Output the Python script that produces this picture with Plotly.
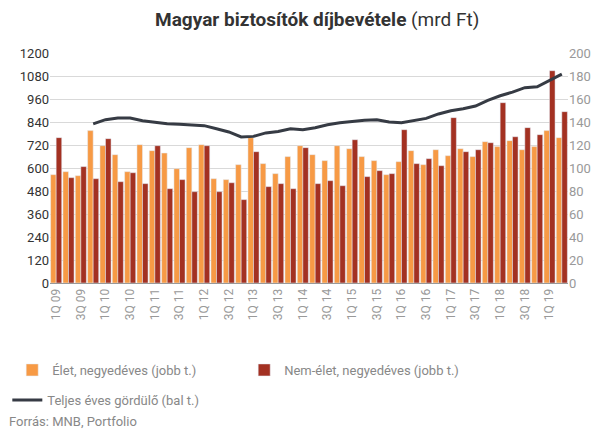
import plotly.graph_objects as go

quarters = [f"{q}Q {y:02d}" for y in range(9, 20) for q in range(1, 5)][:42]

elet = [94.2, 96.8, 93.3, 132.5, 119.4, 111.6, 96.8, 120.3, 115.1, 113.0,
        99.4, 117.7, 120.3, 90.7, 89.9, 102.9, 126.4, 103.8, 95.1, 109.9,
        119.4, 111.6, 106.4, 119.4, 116.8, 109.9, 106.4, 94.2, 105.5, 115.1,
        102.9, 115.9, 110.7, 116.8, 109.9, 122.9, 118.6, 123.8, 115.9, 118.6,
        132.5, 126.4]
nem_elet = [126.4, 91.6, 101.2, 90.7, 125.5, 88.1, 95.9, 86.4, 119.4, 82.0,
            89.9, 79.4, 119.4, 79.4, 87.2, 72.5, 114.2, 83.8, 86.4, 82.0,
            117.7, 86.4, 89.0, 84.6, 124.6, 92.5, 97.7, 95.1, 133.3, 103.8,
            108.1, 102.0, 143.8, 114.2, 115.9, 122.0, 156.8, 127.2, 135.1, 129.0,
            184.6, 149.0]
gordulo = [None, None, None, 830, 852, 861, 861, 847, 838, 831,
           828, 824, 821, 805, 788, 762, 765, 783, 790, 805,
           800, 810, 826, 836, 843, 849, 852, 840, 836, 848,
           859, 882, 899, 909, 923, 953, 977, 996, 1019, 1024,
           1056, 1090]

tick_labels = quarters[::2]

FONT = "Roboto"
fig = go.Figure()
fig.add_trace(go.Bar(x=quarters, y=elet, name="Élet, negyedéves (jobb t.)",
                     marker_color="#F79A45", yaxis="y", legend="legend"))
fig.add_trace(go.Bar(x=quarters, y=nem_elet, name="Nem-élet, negyedéves (jobb t.)",
                     marker_color="#A33122", yaxis="y", legend="legend"))
fig.add_trace(go.Scatter(x=quarters, y=gordulo, name="Teljes éves gördülő (bal t.)",
                         mode="lines", line=dict(color="#363B44", width=3),
                         yaxis="y2", legend="legend2"))

fig.update_layout(
    width=610, height=436,
    margin=dict(l=50, r=42, t=53, b=153),
    paper_bgcolor="white", plot_bgcolor="white",
    font=dict(family=FONT, size=13, color="#888888"),
    title=dict(text="<b>Magyar biztosítók díjbevétele</b> (mrd Ft)",
               x=0.52, xanchor="center", y=0.955, yanchor="middle",
               font=dict(family=FONT, size=19, color="#333333")),
    barmode="group", bargap=0.1, bargroupgap=0,
    xaxis=dict(type="category", categoryorder="array", categoryarray=quarters,
               tickmode="array", tickvals=tick_labels, ticktext=tick_labels,
               tickangle=-90, tickfont=dict(size=12, color="#999999"),
               showline=True, linecolor="#999999", linewidth=1,
               showgrid=False, ticks="", range=[-0.5, 41.5]),
    yaxis=dict(side="right", range=[0, 200], dtick=20, tick0=0,
               showgrid=True, gridcolor="#D9D9D9", gridwidth=1,
               zeroline=False, tickfont=dict(size=13, color="#999999"),
               ticks="", ticklen=0),
    yaxis2=dict(side="left", overlaying="y", range=[0, 1200], dtick=120, tick0=0,
                showgrid=False, zeroline=False,
                tickfont=dict(size=13, color="#333333"), ticks=""),
    legend=dict(orientation="h", xref="container", yref="container",
                x=0.02, xanchor="left", y=0.1514, yanchor="middle",
                entrywidth=187, entrywidthmode="pixels",
                font=dict(size=13, color="#888888"), bgcolor="rgba(0,0,0,0)"),
    legend2=dict(orientation="h", xref="container", yref="container",
                 x=0.012, xanchor="left", y=0.0826, yanchor="middle",
                 font=dict(size=13, color="#888888"), bgcolor="rgba(0,0,0,0)"),
    annotations=[dict(text="Forrás: MNB, Portfolio", xref="paper", yref="paper",
                      x=-0.083, y=-0.604, xanchor="left", yanchor="middle",
                      showarrow=False, font=dict(family=FONT, size=13, color="#888888"))],
)

fig.write_html("out.html", config={"displayModeBar": False},
               post_script="document.body.style.margin='0';")
